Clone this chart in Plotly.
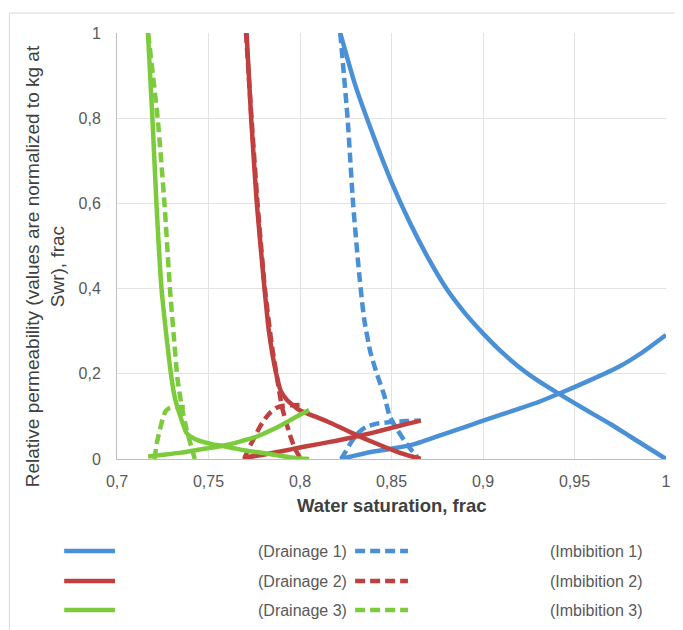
import plotly.graph_objects as go

# ---------------- data ----------------
# Drainage 1 (blue, solid)
d1_kro_sw = [0.822, 0.83, 0.84, 0.85, 0.86, 0.87, 0.88, 0.89, 0.90, 0.91, 0.92, 0.93, 0.94, 0.95, 0.96, 0.97, 0.98, 0.99, 1.0]
d1_kro = [1.0, 0.88, 0.76, 0.65, 0.555, 0.472, 0.40, 0.343, 0.295, 0.252, 0.215, 0.184, 0.157, 0.131, 0.106, 0.081, 0.054, 0.027, 0.0]
d1_krw_sw = [0.822, 0.83, 0.838, 0.85, 0.861, 0.875, 0.892, 0.905, 0.919, 0.931, 0.943, 0.958, 0.974, 0.987, 1.0]
d1_krw = [0.0, 0.008, 0.016, 0.024, 0.033, 0.053, 0.078, 0.097, 0.117, 0.135, 0.156, 0.184, 0.216, 0.25, 0.291]
# Imbibition 1 (blue, dashed)
i1_kro_sw = [0.822, 0.826, 0.829, 0.832, 0.835, 0.8385, 0.842, 0.846, 0.849, 0.853, 0.858, 0.862, 0.865]
i1_kro = [1.0, 0.8, 0.6, 0.45, 0.33, 0.25, 0.2, 0.15, 0.1, 0.07, 0.037, 0.015, 0.0]
i1_krw_sw = [0.8225, 0.825, 0.828, 0.832, 0.836, 0.842, 0.85, 0.858, 0.866]
i1_krw = [0.0, 0.018, 0.04, 0.062, 0.075, 0.083, 0.087, 0.089, 0.09]

# Drainage 2 (red, solid)
d2_kro_sw = [0.7708, 0.7733, 0.7764, 0.7806, 0.783, 0.787, 0.7895, 0.793, 0.7996, 0.808, 0.815, 0.823, 0.831, 0.839, 0.847, 0.855, 0.861, 0.866]
d2_kro = [1.0, 0.8, 0.6, 0.4, 0.3, 0.2, 0.16, 0.138, 0.115, 0.1, 0.088, 0.072, 0.056, 0.041, 0.027, 0.014, 0.006, 0.0]
d2_krw_sw = [0.769, 0.78, 0.79, 0.80, 0.81, 0.82, 0.83, 0.84, 0.85, 0.858, 0.866]
d2_krw = [0.003, 0.01, 0.018, 0.027, 0.035, 0.043, 0.052, 0.062, 0.073, 0.082, 0.09]
# Imbibition 2 (red, dashed)
i2_kro_sw = [0.7705, 0.7735, 0.7768, 0.7808, 0.7845, 0.7875, 0.790, 0.7925, 0.795, 0.7975, 0.8005]
i2_kro = [1.0, 0.8, 0.6, 0.4, 0.27, 0.19, 0.125, 0.085, 0.05, 0.022, 0.0]
i2_krw_sw = [0.7695, 0.772, 0.775, 0.778, 0.781, 0.784, 0.787, 0.791, 0.795, 0.8005]
i2_krw = [0.0, 0.025, 0.05, 0.075, 0.095, 0.11, 0.12, 0.125, 0.126, 0.127]

# Drainage 3 (green, solid)
d3_kro_sw = [0.7169, 0.7194, 0.7216, 0.7243, 0.7275, 0.7298, 0.7318, 0.734, 0.738, 0.742, 0.747, 0.752, 0.757, 0.763, 0.77, 0.78, 0.79, 0.798, 0.805]
d3_kro = [1.0, 0.796, 0.596, 0.401, 0.27, 0.19, 0.14, 0.108, 0.061, 0.048, 0.04, 0.035, 0.031, 0.026, 0.02, 0.014, 0.007, 0.002, 0.0]
d3_krw_sw = [0.717, 0.725, 0.735, 0.7436, 0.752, 0.760, 0.768, 0.776, 0.783, 0.790, 0.797, 0.805]
d3_krw = [0.006, 0.01, 0.015, 0.021, 0.027, 0.033, 0.042, 0.052, 0.065, 0.08, 0.097, 0.115]
# Imbibition 3 (green, dashed)
i3_kro_sw = [0.717, 0.7223, 0.726, 0.7289, 0.731, 0.733, 0.7355, 0.738, 0.7405, 0.7425]
i3_kro = [1.0, 0.796, 0.596, 0.401, 0.29, 0.19, 0.12, 0.07, 0.03, 0.0]
i3_krw_sw = [0.7205, 0.7218, 0.7235, 0.725, 0.7265, 0.729, 0.733, 0.7387]
i3_krw = [0.0, 0.038, 0.07, 0.095, 0.112, 0.12, 0.122, 0.122]

series_names = ["(Drainage 1)", "(Imbibition 1)", "(Drainage 2)", "(Imbibition 2)", "(Drainage 3)", "(Imbibition 3)"]

x_tickvals = [0.7, 0.75, 0.8, 0.85, 0.9, 0.95, 1.0]
x_ticktext = ["0,7", "0,75", "0,8", "0,85", "0,9", "0,95", "1"]
y_tickvals = [0, 0.2, 0.4, 0.6, 0.8, 1.0]
y_ticktext = ["0", "0,2", "0,4", "0,6", "0,8", "1"]

BLUE = "#4a90d6"
RED = "#c0403f"
GREEN = "#7ccb3c"
DASH = "10px,5px"
LW = 4.5
FONT = "Liberation Sans, Arial, sans-serif"

fig = go.Figure()

groups = [
    (BLUE, "solid", [(d1_kro_sw, d1_kro), (d1_krw_sw, d1_krw)]),
    (BLUE, DASH, [(i1_kro_sw, i1_kro), (i1_krw_sw, i1_krw)]),
    (RED, "solid", [(d2_kro_sw, d2_kro), (d2_krw_sw, d2_krw)]),
    (RED, DASH, [(i2_kro_sw, i2_kro), (i2_krw_sw, i2_krw)]),
    (GREEN, "solid", [(d3_kro_sw, d3_kro), (d3_krw_sw, d3_krw)]),
    (GREEN, DASH, [(i3_kro_sw, i3_kro), (i3_krw_sw, i3_krw)]),
]

for (color, dash, curves), name in zip(groups, series_names):
    for xs, ys in curves:
        fig.add_trace(go.Scatter(
            x=xs, y=ys, mode="lines", name=name, showlegend=False,
            line=dict(color=color, width=LW, dash=dash, shape="spline", smoothing=0.5),
        ))

# plot area geometry in screen px (page has an 8px body margin)
OFF = 8
FW, FH = 683 - OFF, 630 - OFF
L, R, T, B = 117, 668, 33, 459
W, H = R - L, B - T

def px(x):
    return (x - L) / W

def py(y):
    return (B - y) / H

shapes = []
annotations = []

# outer light frame
shapes.append(dict(type="rect", xref="paper", yref="paper",
                   x0=px(9), x1=px(700), y0=py(645), y1=py(13),
                   line=dict(color="#d9d9d9", width=1), fillcolor="rgba(0,0,0,0)", layer="below"))

# manual legend
rows = [551, 581, 610]
legend_colors = [BLUE, RED, GREEN]
for i, (yy, col) in enumerate(zip(rows, legend_colors)):
    shapes.append(dict(type="line", xref="paper", yref="paper",
                       x0=px(64), x1=px(115), y0=py(yy), y1=py(yy),
                       line=dict(color=col, width=LW)))
    shapes.append(dict(type="line", xref="paper", yref="paper",
                       x0=px(356), x1=px(409), y0=py(yy), y1=py(yy),
                       line=dict(color=col, width=LW, dash=DASH)))
    annotations.append(dict(xref="paper", yref="paper", x=px(350), y=py(yy),
                            text=series_names[2 * i], showarrow=False,
                            xanchor="right", yanchor="middle",
                            font=dict(size=16, color="#595959")))
    annotations.append(dict(xref="paper", yref="paper", x=px(646), y=py(yy),
                            text=series_names[2 * i + 1], showarrow=False,
                            xanchor="right", yanchor="middle",
                            font=dict(size=16, color="#595959")))

# y-axis title (two lines)
annotations.append(dict(xref="paper", yref="paper", x=px(45), y=py(266),
                        text="Relative permeability (values are normalized to kg at<br>Swr), frac",
                        showarrow=False, textangle=-90, xanchor="center", yanchor="middle",
                        font=dict(size=19, color="#404040", family=FONT)))

# x-axis title
annotations.append(dict(xref="paper", yref="paper", x=0.5, y=py(505),
                        text="<b>Water saturation, frac</b>",
                        showarrow=False, xanchor="center", yanchor="middle",
                        font=dict(size=18.5, color="#404040", family=FONT)))

fig.update_layout(
    width=FW, height=FH,
    margin=dict(l=L - OFF, r=FW - (R - OFF), t=T - OFF, b=FH - (B - OFF)),
    paper_bgcolor="white", plot_bgcolor="white",
    font=dict(family=FONT, size=16, color="#595959"),
    showlegend=False,
    shapes=shapes, annotations=annotations,
)

fig.update_xaxes(
    range=[0.7, 1.0], tickvals=x_tickvals, ticktext=x_ticktext,
    showgrid=True, gridcolor="#e3e3e3", gridwidth=1,
    showline=True, linecolor="#bfbfbf", linewidth=1,
    zeroline=False, ticks="", ticklabelstandoff=8,
    tickfont=dict(size=16, color="#595959"),
)
fig.update_yaxes(
    range=[0, 1.0], tickvals=y_tickvals, ticktext=y_ticktext,
    showgrid=True, gridcolor="#e3e3e3", gridwidth=1,
    showline=True, linecolor="#bfbfbf", linewidth=1,
    zeroline=False, ticks="", ticklabelstandoff=12,
    tickfont=dict(size=16, color="#595959"),
)

fig.write_html("out.html")
